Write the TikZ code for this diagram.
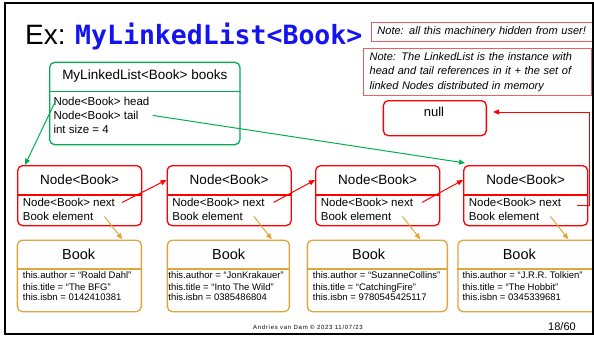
\documentclass[tikz,border=0pt]{standalone}
\usepackage{fontspec}
\setmainfont{Liberation Sans}
\newfontfamily\codefont{DejaVu Sans Mono}
\usetikzlibrary{arrows.meta,calc}
\definecolor{boxred}{RGB}{255,0,0}
\definecolor{boxgreen}{RGB}{0,176,80}
\definecolor{boxgold}{RGB}{222,166,60}
\definecolor{notered}{RGB}{240,95,95}
\definecolor{titleblue}{RGB}{20,20,240}

\tikzset{
  card/.style={draw, line width=1.3pt, rounded corners=5pt, inner sep=0pt, anchor=north west},
  headtxt/.style={inner sep=0pt, anchor=center, font=\fontsize{13.5}{16}\selectfont},
  booktitle/.style={inner sep=0pt, anchor=center, font=\fontsize{14.5}{17}\selectfont},
  bodytxt/.style={inner sep=0pt, anchor=base west, font=\fontsize{11.5}{14}\selectfont},
  booktxt/.style={inner sep=0pt, anchor=base west, font=\fontsize{9.5}{11}\selectfont},
  notebox/.style={draw=notered, line width=0.9pt, anchor=north west, inner xsep=6.5pt,
    align=left, font=\fontsize{11}{14.3}\selectfont\itshape},
  link/.style={line width=1pt, -{Triangle[length=6pt,width=5pt]}},
}

\begin{document}
\begin{tikzpicture}[x=1pt,y=-1pt]
\useasboundingbox (0,0) rectangle (594,337);

% slide title
\node[inner sep=0pt, anchor=base west, font=\fontsize{28}{32}\selectfont] (ex) at (25,45) {Ex:};
\node[inner sep=0pt, anchor=base west, text=titleblue,
      font=\fontsize{26.5}{30}\selectfont\codefont\bfseries] (ttl) at (75,45) {MyLinkedList<Book>};

% notes
\node[notebox, text width=209pt, minimum height=19pt] (note1) at (370.5,22)
  {Note: all this machinery hidden from user!};
\node[notebox, text width=215pt, minimum height=47pt] (note2) at (362.7,48)
  {Note: The LinkedList is the instance with\\head and tail references in it + the set of\\linked Nodes distributed in memory};

% the list object
\node[card, draw=boxgreen, minimum width=190.3pt, minimum height=82.3pt] (ml) at (49,61.7) {};
\draw[boxgreen, line width=1.3pt] ($(ml.north west)+(0,30)$) -- ($(ml.north east)+(0,30)$);
\node[headtxt] (mlt) at ($(ml.north)+(0,14.5)$) {MyLinkedList<Book> books};
\node[bodytxt] (mlhead) at ($(ml.north west)+(4.3,43.8)$) {Node<Book> head};
\node[bodytxt] (mltail) at ($(ml.north west)+(4.3,57.8)$) {Node<Book> tail};
\node[bodytxt] (mlsize) at ($(ml.north west)+(4.3,71.8)$) {int size = 4};

% null
\node[card, draw=boxred, minimum width=103pt, minimum height=35pt] (nullbox) at (382.7,100) {};
\node[headtxt, font=\fontsize{13}{15}\selectfont] (nullt) at (434,112) {null};

% linked nodes
\foreach \i/\x in {1/17,2/166.5,3/315,4/463}{
  \node[card, draw=boxred, minimum width=124pt, minimum height=60pt] (n\i) at (\x,165) {};
  \draw[boxred, line width=1.3pt] ($(n\i.north west)+(0,30)$) -- ($(n\i.north east)+(0,30)$);
  \node[headtxt] (nt\i) at ($(n\i.north)+(0,15)$) {Node<Book>};
  \node[bodytxt] (nx\i) at ($(n\i.north west)+(5.7,41.5)$) {Node<Book> next};
  \node[bodytxt] (el\i) at ($(n\i.north west)+(5.7,55.5)$) {Book element};
}

% books
\begin{scope}
\clip (5,3) rectangle (593,334);
\foreach \i/\x/\w/\dx/\au/\ti/\isbn in {
  1/16.7/124/6/Roald Dahl/The BFG/0142410381,
  2/166.7/122/1.5/JonKrakauer/Into The Wild/0385486804,
  3/306.7/140/6/SuzanneCollins/CatchingFire/9780545425117,
  4/457.3/150/5/J.R.R. Tolkien/The Hobbit/0345339681}{
  \node[card, draw=boxgold, minimum width=\w pt, minimum height=71.5pt] (b\i) at (\x,239.5) {};
  \draw[boxgold, line width=1.3pt] ($(b\i.north west)+(0,29.5)$) -- ($(b\i.north east)+(0,29.5)$);
  \node[booktitle] (bt\i) at ($(b\i.north west)+(62,14.5)$) {Book};
  \node[booktxt] (ba\i) at ($(b\i.north west)+(\dx,39)$) {this.author = “\au”};
  \node[booktxt] (bn\i) at ($(b\i.north west)+(\dx,50.5)$) {this.title = “\ti”};
  \node[booktxt] (bi\i) at ($(b\i.north west)+(\dx,60.5)$) {this.isbn = \isbn};
}
\end{scope}

% references held by the list
\draw[link, boxgreen] ([xshift=2pt]mlhead.west) -- ($(n1.north west)+(8,0)$);
\draw[link, boxgreen] ([xshift=14pt]mltail.east) -- ($(n4.north west)+(2,-2)$);

% next references
\draw[link, boxred] ([xshift=7pt]nx1.east) -- (n2.west |- nt2);
\draw[link, boxred] ([xshift=9pt]nx2.east) -- (n3.west |- nt3);
\draw[link, boxred] ([xshift=9pt]nx3.east) -- (n4.west |- nt4);
\draw[link, boxred] ([xshift=16pt,yshift=-3pt]nx4.east) -- ++(12,0) |- ([xshift=6pt]nullbox.east |- nullt);

% element references
\foreach \i in {1,2,3,4}{
  \draw[link, boxgold] ([xshift=11pt]el\i.east) -- ($(n\i.south east)+(-20,13)$);
}

% footer
\node[inner sep=0pt, anchor=base, font=\fontsize{6}{7}\selectfont\addfontfeatures{LetterSpace=12}] (foot) at (308,329)
  {Andries van Dam \textcopyright{} 2023 11/07/23};
\node[inner sep=0pt, anchor=base, font=\fontsize{11}{13}\selectfont] (page) at (562,330.5) {18/60};

% slide frame
\draw[line width=2pt] (5,3) rectangle (593,334);
\end{tikzpicture}
\end{document}
